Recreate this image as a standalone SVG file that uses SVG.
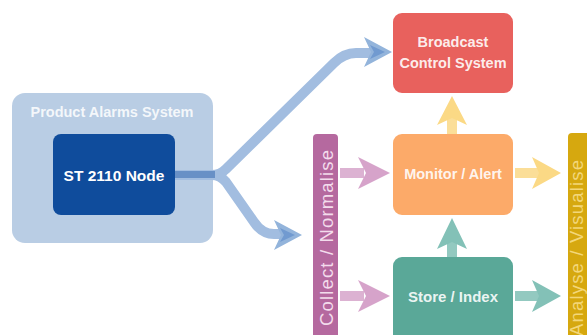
<svg xmlns="http://www.w3.org/2000/svg" width="587" height="335" viewBox="0 0 587 335">
<style>
.lbl{font-family:"Liberation Sans",Arial,sans-serif;font-weight:bold;fill:#ffffff;text-anchor:middle}
.vl{font-family:"Liberation Sans",Arial,sans-serif;text-anchor:middle}
.blue{fill:none;stroke:#a2bde0;stroke-width:10;stroke-linejoin:round}
</style>
<rect width="587" height="335" fill="#ffffff"/>
<g id="product-alarms-system">
<rect x="12" y="93" width="201" height="150" rx="13" fill="#b9cde4"/>
<text class="lbl" x="112" y="117" font-size="14.5" fill-opacity="0.85">Product Alarms System</text>
</g>
<g id="st2110-node">
<rect x="53" y="134" width="122" height="81" rx="8" fill="#0f4c9c"/>
<text class="lbl" x="114" y="181" font-size="15.5">ST 2110 Node</text>
</g>
<g id="broadcast-control">
<rect x="393" y="13" width="120" height="80" rx="9" fill="#e8615d"/>
<text class="lbl" x="453" y="47" font-size="14.5" fill-opacity="0.9">Broadcast</text>
<text class="lbl" x="453" y="68" font-size="14.5" fill-opacity="0.9">Control System</text>
</g>
<g id="monitor-alert">
<rect x="393" y="134" width="120" height="81" rx="9" fill="#fcaa69"/>
<text class="lbl" x="453" y="179" font-size="14.5" fill-opacity="0.9">Monitor / Alert</text>
</g>
<g id="store-index">
<rect x="393" y="257" width="120" height="90" rx="9" fill="#5aa898"/>
<text class="lbl" x="453" y="302" font-size="15" fill-opacity="0.9">Store / Index</text>
</g>
<g id="collect-normalise">
<rect x="313" y="134" width="25" height="215" rx="4" fill="#b5699f"/>
<text class="vl" transform="translate(333,238) rotate(-90)" font-size="18.5" fill="#f3dcec" textLength="176" lengthAdjust="spacing">Collect / Normalise</text>
</g>
<g id="analyse-visualise">
<rect x="568" y="133" width="30" height="215" rx="4" fill="#d6a80f"/>
<text class="vl" transform="translate(583,248) rotate(-90)" font-size="18.5" fill="#f3d77a" textLength="176" lengthAdjust="spacing">Analyse / Visualise</text>
</g>
<g id="connectors">
<path class="blue" d="M175,175 L212,175 Q220,175 226,169 L334,63 Q344,53 356,53 L372,53"/>
<path class="blue" d="M212,175 Q220,175 226,182 L254,222 Q262,234 274,234 L284,234"/>
<rect x="175" y="171" width="40" height="7" fill="#6890c6"/>
<polygon points="392,52 364,37 371,52 364,67" fill="#93b4db"/>
<polygon points="385,52 370,45 374,52 370,59" fill="#719ad0"/>
<polygon points="302,235 274,220 281,235 274,250" fill="#93b4db"/>
<polygon points="295,235 280,228 284,235 280,242" fill="#719ad0"/>
<rect x="340" y="168" width="24" height="10" fill="#dcb2d2"/>
<polygon points="390,173 358,157 366,173 358,189" fill="#d6a3ca"/>
<rect x="340" y="291" width="24" height="10" fill="#dcb2d2"/>
<polygon points="390,296 358,280 366,296 358,312" fill="#d6a3ca"/>
<rect x="515" y="168" width="24" height="10" fill="#fbde98"/>
<polygon points="561,173 532,157 539,173 532,189" fill="#fbd985"/>
<rect x="515" y="291" width="24" height="10" fill="#93c9c0"/>
<polygon points="561,296 532,280 539,296 532,312" fill="#83c1b7"/>
<rect x="447" y="116" width="10" height="18" fill="#fbde98"/>
<polygon points="452,96 437,125 452,118 467,125" fill="#fbd985"/>
<rect x="447" y="240" width="10" height="17" fill="#93c9c0"/>
<polygon points="452,218 437,249 452,242 467,249" fill="#83c1b7"/>
</g>
</svg>
